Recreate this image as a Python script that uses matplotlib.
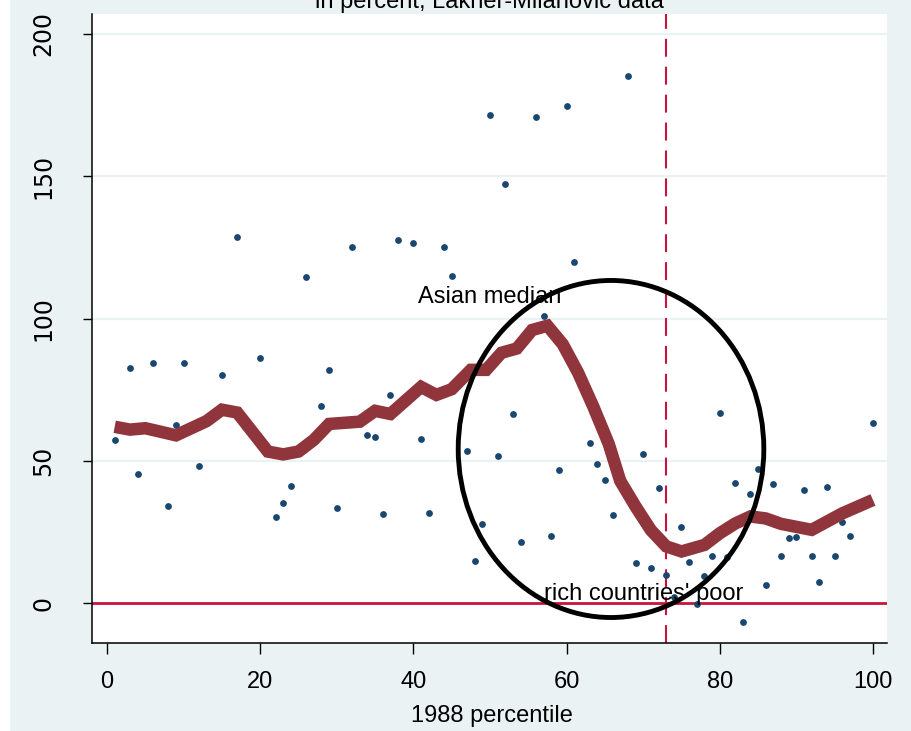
import matplotlib
matplotlib.use("Agg")
import matplotlib.pyplot as plt
from matplotlib.patches import Ellipse, Rectangle

# scatter: income growth 1988-2008 by 1988 percentile
pct = [1, 3, 4, 6, 8, 9, 10, 12, 15, 17, 18, 20, 22, 23, 24, 26, 28, 29, 30, 32,
       34, 35, 36, 37, 38, 40, 41, 42, 44, 45, 47, 48, 49, 50, 51, 52, 53, 54, 56, 57,
       58, 59, 60, 61, 63, 64, 65, 66, 67, 68, 69, 70, 71, 72, 73, 74, 75, 76, 77, 78,
       79, 80, 81, 82, 83, 84, 85, 86, 87, 88, 89, 90, 91, 92, 93, 94, 95, 96, 97, 98,
       100]
growth = [57.4, 82.5, 45.3, 84.4, 34.3, 62.5, 84.4, 48.2, 80.3, 128.7, 62.0, 86.3, 30.3, 35.1, 41.1, 114.7, 69.4, 82.1, 33.5, 125.2,
          59.2, 58.3, 31.4, 73.2, 127.6, 126.6, 57.7, 31.8, 125.2, 115.0, 53.6, 14.8, 27.9, 171.4, 51.6, 147.2, 66.4, 21.4, 170.8, 100.8,
          23.5, 46.9, 174.6, 119.9, 56.3, 48.8, 43.2, 30.9, 41.7, 185.2, 14.3, 52.6, 12.3, 40.6, 10.1, 2.1, 26.8, 14.5, -0.2, 9.7,
          16.7, 66.7, 16.4, 42.3, -6.7, 38.4, 47.1, 6.4, 42.0, 16.7, 22.9, 23.4, 39.9, 16.7, 7.5, 40.9, 16.7, 28.7, 23.5, 35.3,
          63.4]

# smoothed curve
smooth_x = [1, 3, 5, 9, 13, 15, 17, 21, 23, 25, 27, 29, 33, 35, 37, 41, 43, 45, 47.5, 49.5,
            51.5, 53.5, 55.5, 57.5, 59.5, 61.5, 63.5, 65.5, 67, 69, 71, 73, 75, 78, 80, 82,
            84, 86, 88, 92, 94, 96, 100]
smooth_y = [62, 61, 61.5, 59, 64, 68, 67, 53.3, 52.3, 53.3, 57.4, 63, 63.8, 67.6, 66.5, 76, 73.2, 75.2, 82, 82,
            88, 89.5, 96, 97.5, 91, 81, 69, 56, 43, 34, 25.7, 20, 18.2, 20.5, 24.6, 28,
            30.5, 29.8, 27.9, 25.8, 28.7, 31.6, 36.3]

xticks = [0, 20, 40, 60, 80, 100]
yticks = [0, 50, 100, 150, 200]
cutoff = 73

bg = "#eaf2f3"
navy = "#1a476f"
cranberry = "#90353b"
red = "#c8143c"
sans = ["Liberation Sans", "DejaVu Sans"]

fig = plt.figure(figsize=(9.11, 7.31), dpi=100, facecolor=bg)
fig.add_artist(Rectangle((0, 0), 9 / 911, 1, transform=fig.transFigure,
                         color="white", zorder=-10))
ax = fig.add_axes([92 / 911, 88 / 731, 795 / 911, 629 / 731])
ax.set_facecolor("white")

for y in yticks[1:]:
    ax.axhline(y, color=bg, lw=1.6, zorder=0)

ax.axhline(0, color=red, lw=2, zorder=1)
ax.axvline(cutoff, color=red, lw=1.5, linestyle=(0, (8.6, 4.8)), zorder=1)

ax.scatter(pct, growth, s=24, color=navy, zorder=2, linewidths=0)
ax.plot(smooth_x, smooth_y, color=cranberry, lw=9, zorder=3,
        solid_joinstyle="miter", solid_capstyle="butt")

ax.add_patch(Ellipse((65.8, 54.2), 39.9, 118.4, fill=False, ec="black",
                     lw=3.5, zorder=4))

ax.text(50, 105.5, "Asian median", family=sans, fontsize=17,
        ha="center", va="baseline", zorder=5)
ax.text(70, 1.2, "rich countries' poor", family=sans, fontsize=17,
        ha="center", va="baseline", zorder=5)

ax.set_xlim(-1.96, 101.83)
ax.set_ylim(-13.95, 207.0)
ax.set_xticks(xticks)
ax.set_yticks(yticks)
ax.set_xticklabels([str(t) for t in xticks], family=sans, fontsize=17)
ax.set_yticklabels([str(t) for t in yticks], family="DejaVu Sans", fontsize=17,
                   rotation=90, va="center")
ax.tick_params(axis="x", length=8, width=1, pad=12)
ax.tick_params(axis="y", length=6.5, width=1, pad=20)

for side in ["top", "right"]:
    ax.spines[side].set_visible(False)
for side in ["left", "bottom"]:
    ax.spines[side].set_linewidth(1.1)

ax.set_xlabel("1988 percentile", family=sans, fontsize=17)
ax.xaxis.set_label_coords(0.5033, (643 - 722) / 629)
ax.xaxis.label.set_va("baseline")

fig.text(489 / 911, 1 - 8 / 731, "in percent, Lakner-Milanovic data",
         family=sans, fontsize=17, ha="center", va="baseline")

fig.savefig("out.png", dpi=100, facecolor=bg)
